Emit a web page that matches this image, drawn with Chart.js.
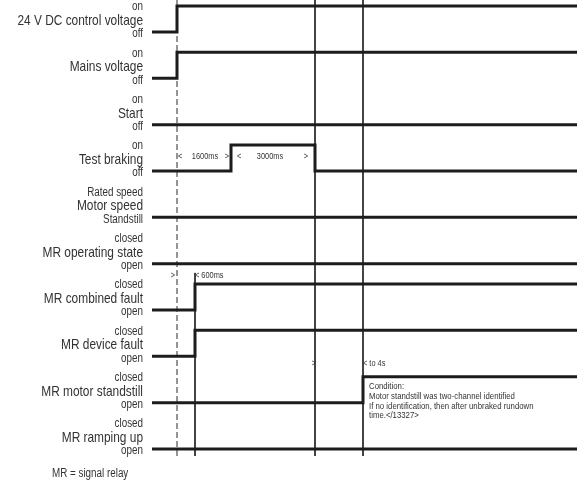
<!DOCTYPE html>
<html>
<head>
<meta charset="utf-8">
<script src="https://cdn.jsdelivr.net/npm/chart.js@4.4.1/dist/chart.umd.min.js"></script>
<style>
  html, body { margin: 0; padding: 0; background: #fff; }
  #wrap { position: relative; width: 577px; height: 484px; }
</style>
</head>
<body>
<div id="wrap"><canvas id="timing"></canvas></div>
<script>
// --- dati: diagramma temporale (asse tempi schematico, non in scala) ---
const EVENT_T = [-25, 0, 18, 54, 138, 186, 400];   // inizio, accensione, guasto, frenata on, frenata off, fermo, fine
const T_POWER = 0, T_FAULT = 18, T_BRAKE_ON = 54, T_BRAKE_OFF = 138, T_STANDSTILL = 186;

const SIGNAL_NAMES = [
  "24 V DC control voltage", "Mains voltage", "Start", "Test braking", "Motor speed",
  "MR operating state", "MR combined fault", "MR device fault", "MR motor standstill", "MR ramping up"
];
const HIGH_LABELS = ["on", "on", "on", "on", "Rated speed", "closed", "closed", "closed", "closed", "closed"];
const LOW_LABELS  = ["off", "off", "off", "off", "Standstill", "open", "open", "open", "open", "open"];

// stato del segnale a partire da ogni istante di EVENT_T (1 = alto)
const STATES = [
  [0, 1, 1, 1, 1, 1, 1],   // 24 V DC
  [0, 1, 1, 1, 1, 1, 1],   // mains
  [0, 0, 0, 0, 0, 0, 0],   // start
  [0, 0, 0, 1, 0, 0, 0],   // test braking
  [0, 0, 0, 0, 0, 0, 0],   // motor speed
  [0, 0, 0, 0, 0, 0, 0],   // operating state
  [0, 0, 1, 1, 1, 1, 1],   // combined fault
  [0, 0, 1, 1, 1, 1, 1],   // device fault
  [0, 0, 0, 0, 0, 1, 1],   // motor standstill
  [0, 0, 0, 0, 0, 0, 0]    // ramping up
];

const MARKER_T = [T_POWER, T_FAULT, T_BRAKE_OFF, T_STANDSTILL];
const NOTE_LINES = [
  "Condition:",
  "Motor standstill was two-channel identified",
  "If no identification, then after unbraked rundown",
  "time.</13327>"
];
const FOOTNOTE = "MR = signal relay";

// --- layout (pixel → unità riga) ---
const ROW_PX = 46.33, FIRST_LOW_PX = 32, HIGH = -26 / ROW_PX;
const Y_MIN = -FIRST_LOW_PX / ROW_PX, Y_MAX = (484 - FIRST_LOW_PX) / ROW_PX;
const Y_LINE_END = (456 - FIRST_LOW_PX) / ROW_PX;
const FONT = '"Liberation Sans", Arial, sans-serif';
const NARROW = 0.82;   // niente Arial Narrow installato: schiaccio in orizzontale
const INK = "#1c1c1c";

const signalSets = STATES.map((st, i) => ({
  data: EVENT_T.map((t, k) => ({ x: t, y: i + (st[k] ? HIGH : 0) })),
  borderColor: INK, borderWidth: 3, stepped: true, pointRadius: 0,
  borderCapStyle: "butt", borderJoinStyle: "miter", fill: false
}));

const markerSets = MARKER_T.map(t => ({
  data: [{ x: t, y: t === T_FAULT ? 5.2 : Y_MIN }, { x: t, y: Y_LINE_END }],
  borderColor: "#2a2a2a", borderWidth: 1, pointRadius: 0, fill: false,
  borderDash: t === T_POWER ? [6, 3] : []
}));

function txt(c, s, x, y, align){
  c.save();
  c.translate(x, y);
  c.scale(NARROW, 1);
  c.textAlign = align;
  c.fillText(s, 0, 0);
  c.restore();
}

const textPlugin = {
  id: "timingText",
  afterDatasetsDraw(chart){
    const c = chart.ctx, xs = chart.scales.x, ys = chart.scales.y;
    const px = t => xs.getPixelForValue(t);
    const py = v => ys.getPixelForValue(v);
    const labelX = px(EVENT_T[0]) - 9;
    c.save();
    c.fillStyle = "#333";
    c.textBaseline = "middle";

    // etichette di riga
    SIGNAL_NAMES.forEach((name, i) => {
      const low = py(i);
      c.font = "12px " + FONT;
      txt(c, HIGH_LABELS[i], labelX, low - 25, "right");
      txt(c, LOW_LABELS[i], labelX, low + 2, "right");
      c.font = "14.5px " + FONT;
      txt(c, name, labelX, low - 11, "right");
    });

    // quote temporali
    c.font = "9px " + FONT;
    const yb = py(3) - 14;
    txt(c, "<", px(T_POWER) + 1, yb, "left");
    txt(c, "1600ms", (px(T_POWER) + px(T_BRAKE_ON)) / 2 + 1, yb, "center");
    txt(c, ">", px(T_BRAKE_ON) - 2, yb, "right");
    txt(c, "<", px(T_BRAKE_ON) + 6, yb, "left");
    txt(c, "3000ms", (px(T_BRAKE_ON) + px(T_BRAKE_OFF)) / 2 - 3, yb, "center");
    txt(c, ">", px(T_BRAKE_OFF) - 7, yb, "right");

    const yf = py(6) - 34;
    txt(c, ">", px(T_POWER) - 2, yf, "right");
    txt(c, "< 600ms", px(T_FAULT), yf, "left");

    const ys4 = py(8) - 39;
    txt(c, ">", px(T_BRAKE_OFF) + 1, ys4, "right");
    txt(c, "< to 4s", px(T_STANDSTILL), ys4, "left");

    // nota condizione
    c.font = "9.5px " + FONT;
    NOTE_LINES.forEach((line, k) => txt(c, line, px(T_STANDSTILL) + 6, py(8) - 16 + k * 9.7, "left"));

    c.font = "12px " + FONT;
    txt(c, FOOTNOTE, 52, py(9) + 25, "left");
    c.restore();
  }
};

new Chart(document.getElementById("timing"), {
  type: "line",
  data: { datasets: signalSets.concat(markerSets) },
  options: {
    responsive: true, maintainAspectRatio: false, animation: false,
    layout: { padding: 0 },
    plugins: { legend: { display: false }, tooltip: { enabled: false } },
    scales: {
      x: { type: "linear", display: false, min: -177, max: 400 },
      y: { type: "linear", display: false, reverse: true, min: Y_MIN, max: Y_MAX }
    }
  },
  plugins: [textPlugin]
});
</script>
</body>
</html>
